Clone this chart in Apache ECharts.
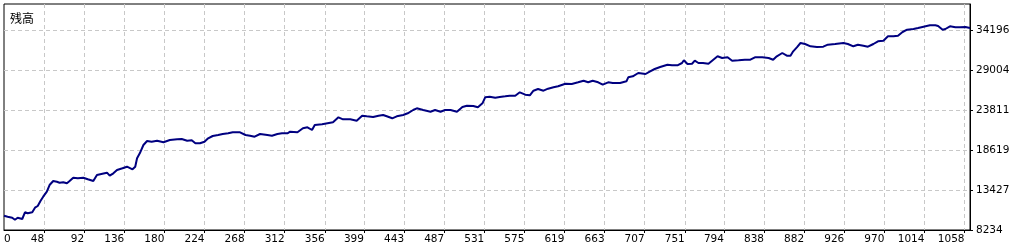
<!DOCTYPE html>
<html>
<head>
<meta charset="utf-8">
<script src="https://cdn.jsdelivr.net/npm/echarts@6/dist/echarts.min.js"></script>
<style>
html,body{margin:0;padding:0;background:#fff;}
#chart{width:1025px;height:250px;}
</style>
</head>
<body>
<div id="chart"></div>
<script>
// Trade number (x) and balance (y)
var tradeIndex = [4,8,13,16,19,24,27,30,35,38,41,44,47,51,54,58,62,65,69,73,76,80,85,91,96,102,106,112,117,120,124,128,134,139,145,148,150,153,157,161,166,172,179,186,194,199,205,210,214,219,224,228,233,239,244,250,255,263,269,274,
279,285,293,298,304,309,315,318,326,332,337,342,345,353,359,365,371,376,384,391,397,402,409,415,420,424,430,435,442,447,453,457,464,472,477,483,488,494,501,507,512,519,524,529,532,537,543,
548,554,559,565,570,576,581,585,590,596,601,607,612,620,627,634,640,645,650,656,661,667,672,680,687,689,694,700,708,713,718,724,732,737,743,748,750,754,759,762,766,771,777,781,787,792,798,803,810,817,823,
828,836,843,848,852,858,863,867,870,874,878,883,889,896,903,908,916,925,930,936,941,947,952,958,963,969,974,980,985,990,995,1002,1007,1013,1020,1026,1029,1034,1037,1042,1048,1053,1059,1064];
var balance = [10090,9961,9831,9571,9831,9662,10532,10402,10532,11129,11349,11999,12557,13206,14075,14595,14504,14374,14426,14296,14595,15023,14945,15023,14815,14595,15374,15542,15672,15283,15594,16023,16243,16451,16113,16451,17541,18190,19268,19787,19696,19826,19618,19917,20008,20047,19826,19878,19489,19489,19696,20138,20436,20566,20696,20787,20916,20916,20566,20475,
20345,20696,20566,20475,20696,20787,20787,20994,20916,21436,21565,21215,21864,21955,22085,22215,22864,22604,22604,22422,23071,22993,22903,23071,23162,22993,22734,22993,23162,23383,23811,24032,23811,23590,23811,23590,23811,23811,23590,24201,24369,24330,24162,24681,25460,25538,25408,
25499,25590,25668,25668,26109,25797,25719,26317,26537,26317,26576,26758,26888,27225,27186,27407,27615,27407,27615,27407,27095,27407,27316,27316,27537,28056,28186,28614,28484,28835,29133,29393,29692,29614,29614,29912,30263,29782,29821,30211,29912,29912,29821,30211,30782,30561,30652,30211,30263,30341,30341,
30652,30652,30561,30341,30782,31210,30860,30860,31431,31950,32508,32379,32080,31989,32028,32288,32379,32508,32379,32080,32288,32158,32028,32379,32729,32807,33378,33378,33456,33936,34235,34326,34456,34624,34806,34806,34715,34235,34326,34676,34546,34546,34585,34456];
var xTickLabels = [0,48,92,136,180,224,268,312,356,399,443,487,531,575,619,663,707,751,794,838,882,926,970,1014,1058];
var yTickValues = [8234,13427,18619,23811,29004,34196];
var xMin = 4, xMax = 1064, yMin = 8234, yMax = 37571;

var seriesData = tradeIndex.map(function (t, i) { return [t, balance[i]]; });
var labelFont = 'DejaVu Sans';
var gridDash = { color: '#c8c8c8', type: [4, 3], width: 1 };
var xLabelValues = xTickLabels.map(function (v) { return Math.max(v, xMin); });

var chart = echarts.init(document.getElementById('chart'), null, { renderer: 'canvas' });
chart.setOption({
  animation: false,
  backgroundColor: '#ffffff',
  title: {
    text: '残高', left: 5, top: 7,
    textStyle: { fontFamily: 'Noto Sans CJK JP', fontSize: 12, fontWeight: 'normal', color: '#000' }
  },
  grid: { left: 4, right: 55, top: 4, bottom: 20, outerBoundsMode: 'none', containLabel: false,
    show: true, borderColor: '#000', borderWidth: 1, backgroundColor: 'transparent' },
  xAxis: {
    type: 'value', min: xMin, max: xMax,
    axisLine: { show: true, lineStyle: { color: '#000', width: 1 } },
    axisTick: { show: true, length: 3, lineStyle: { color: '#000' }, customValues: xTickLabels.slice(1) },
    splitLine: { show: true, lineStyle: gridDash },
    axisLabel: {
      customValues: xLabelValues,
      formatter: function (v) {
        var k = xLabelValues.indexOf(Math.round(v));
        return k >= 0 ? String(xTickLabels[k]) : '';
      },
      align: 'right', alignMinLabel: 'left',
      margin: 4, color: '#000', fontFamily: labelFont, fontSize: 10.5
    }
  },
  yAxis: {
    type: 'value', position: 'right', min: yMin, max: yMax,
    axisLine: { show: true, lineStyle: { color: '#000', width: 1 } },
    axisTick: { show: true, length: 3, lineStyle: { color: '#000' }, customValues: yTickValues },
    splitLine: { show: true, lineStyle: gridDash },
    axisLabel: {
      customValues: yTickValues,
      formatter: function (v) { return String(v); },
      margin: 6, color: '#000', fontFamily: labelFont, fontSize: 10.5
    }
  },
  series: [{
    type: 'line', data: seriesData, showSymbol: false, symbol: 'none',
    lineStyle: { color: '#000080', width: 2 }, itemStyle: { color: '#000080' }
  }]
});
</script>
</body>
</html>
